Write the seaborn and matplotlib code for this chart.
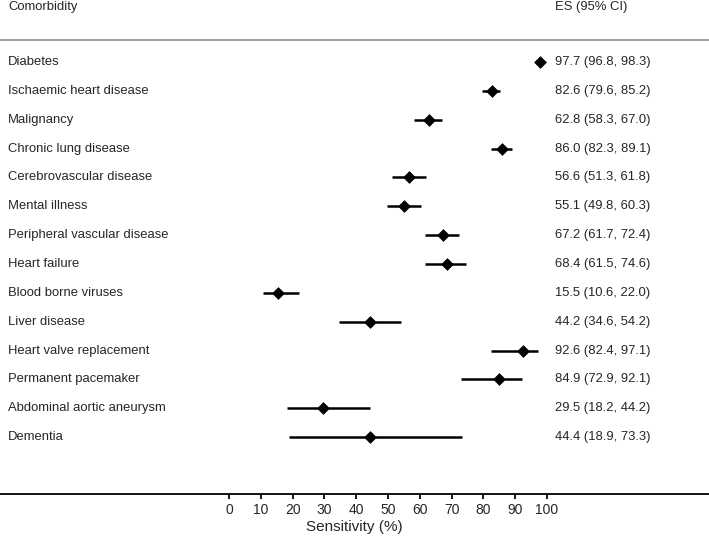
import numpy as np
import pandas as pd
import seaborn as sns
import matplotlib.pyplot as plt
import matplotlib.transforms as mtransforms

comorbidity = ["Diabetes", "Ischaemic heart disease", "Malignancy", "Chronic lung disease",
               "Cerebrovascular disease", "Mental illness", "Peripheral vascular disease",
               "Heart failure", "Blood borne viruses", "Liver disease", "Heart valve replacement",
               "Permanent pacemaker", "Abdominal aortic aneurysm", "Dementia"]
es = [97.7, 82.6, 62.8, 86.0, 56.6, 55.1, 67.2, 68.4, 15.5, 44.2, 92.6, 84.9, 29.5, 44.4]
lo = [96.8, 79.6, 58.3, 82.3, 51.3, 49.8, 61.7, 61.5, 10.6, 34.6, 82.4, 72.9, 18.2, 18.9]
hi = [98.3, 85.2, 67.0, 89.1, 61.8, 60.3, 72.4, 74.6, 22.0, 54.2, 97.1, 92.1, 44.2, 73.3]
xticks = [0, 10, 20, 30, 40, 50, 60, 70, 80, 90, 100]


def main():
    sns.set_style("white")
    plt.rcParams['font.family'] = ['Liberation Sans', 'DejaVu Sans']

    df = pd.DataFrame({"name": comorbidity, "es": es, "lo": lo, "hi": hi})
    df["row"] = np.arange(len(df))

    W, H = 709, 536
    fig = plt.figure(figsize=(W / 100, H / 100), dpi=100)
    ax = fig.add_axes([0, 42 / H, 1, 494 / H])

    # pixel mapping: 0% at x=229, 100% at x=547
    ppu = (547 - 229) / 100
    ax.set_xlim(-229 / ppu, (W - 229) / ppu)
    ax.set_ylim((494 - 62) / 28.85, -62 / 28.85)

    ax.hlines(df["row"], df["lo"], df["hi"], color="black", lw=1.8)
    sns.scatterplot(data=df, x="es", y="row", marker="D", s=36, color="black",
                    edgecolor="black", linewidth=0.5, ax=ax, zorder=3)

    trans = mtransforms.blended_transform_factory(ax.transAxes, ax.transData)
    fs = 9.4
    for r, n, e, l, h in zip(df["row"], comorbidity, es, lo, hi):
        ax.text(8 / W, r, n, transform=trans, fontsize=fs, va="center", ha="left")
        ax.text(555 / W, r, f"{e:.1f} ({l:.1f}, {h:.1f})", transform=trans,
                fontsize=fs, va="center", ha="left")
    ax.text(8 / W, -55 / 28.85, "Comorbidity", transform=trans, fontsize=fs, va="center")
    ax.text(555 / W, -55 / 28.85, "ES (95% CI)", transform=trans, fontsize=fs, va="center")
    ax.axhline(-22 / 28.85, color="#999999", lw=1.3)

    for s in ["top", "left", "right"]:
        ax.spines[s].set_visible(False)
    ax.spines["bottom"].set_color("black")
    ax.spines["bottom"].set_linewidth(1.3)
    ax.set_xticks(xticks)
    ax.set_xticklabels([str(t) for t in xticks], fontsize=10)
    ax.tick_params(axis="x", bottom=True, length=3.6, width=1.3, color="black", pad=3.2)
    ax.set_yticks([])
    ax.set_xlabel("Sensitivity (%)", fontsize=11)
    ax.xaxis.set_label_coords(0.5, -33.5 / 494)
    ax.xaxis.label.set_va("center")
    ax.set_ylabel("")

    plt.savefig("out.png", dpi=100)


if __name__ == "__main__":
    main()
